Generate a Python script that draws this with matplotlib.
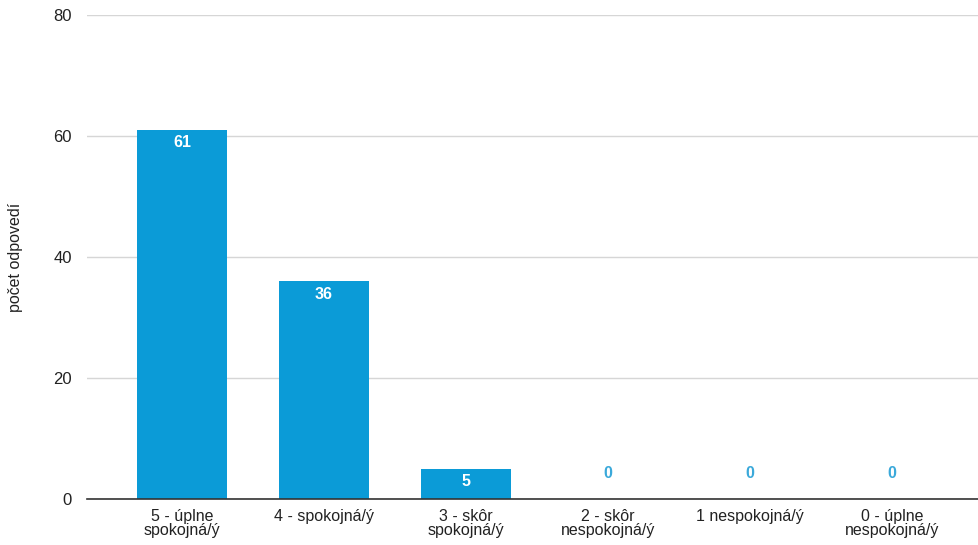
import matplotlib.pyplot as plt

# survey answers and counts
categories = ["5 - úplne\nspokojná/ý", "4 - spokojná/ý", "3 - skôr\nspokojná/ý",
              "2 - skôr\nnespokojná/ý", "1 nespokojná/ý", "0 - úplne\nnespokojná/ý"]
counts = [61, 36, 5, 0, 0, 0]
y_ticks = [0, 20, 40, 60, 80]

bar_color = "#0b9bd7"
plt.rcParams['font.family'] = ['Liberation Sans', 'DejaVu Sans']

fig = plt.figure(figsize=(9.79, 5.45), dpi=100)
ax = fig.add_axes([87 / 979, 46 / 545, 1 - 87 / 979, 484 / 545])

x = list(range(len(categories)))
bars = ax.bar(x, counts, width=0.64, color=bar_color, zorder=3)

for xi, v in zip(x, counts):
    if v > 0:
        ax.annotate(str(v), (xi, v), xytext=(0, -13), textcoords="offset pixels",
                    ha="center", va="center", color="white", fontsize=11.5,
                    fontweight="bold")
    else:
        ax.annotate(str(v), (xi, v), xytext=(0, 26), textcoords="offset pixels",
                    ha="center", va="center", color="#3ba9da", fontsize=11.5,
                    fontweight="bold")

ax.set_xlim(-95 / 142, 5 + 87 / 142)
ax.set_ylim(0, 80)
ax.set_yticks(y_ticks)
ax.set_xticks(x)
ax.set_xticklabels(categories, fontsize=11.5, color="#222222", linespacing=0.95)
ax.tick_params(axis="x", length=0, pad=7)
ax.tick_params(axis="y", length=0, pad=11, labelsize=12, labelcolor="#222222")
ax.yaxis.grid(True, color="#d6d6d6", linewidth=1, zorder=0)
for s in ["top", "right", "left"]:
    ax.spines[s].set_visible(False)
ax.spines["bottom"].set_color("#333333")
ax.spines["bottom"].set_linewidth(1.2)
ax.spines["bottom"].set_zorder(4)

ax.set_ylabel("počet odpovedí", fontsize=11.5, color="#222222", labelpad=22)

fig.savefig("out.png", dpi=100)
